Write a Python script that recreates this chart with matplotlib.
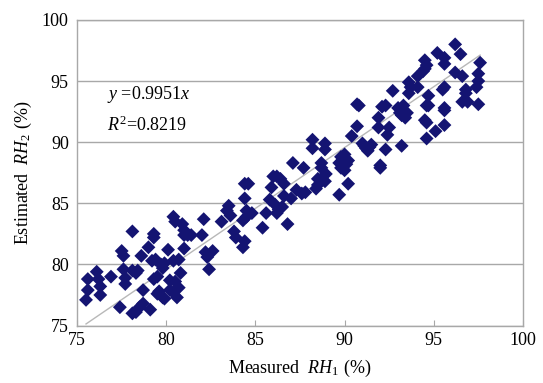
import matplotlib
matplotlib.use("Agg")
import matplotlib.pyplot as plt
import numpy as np

# Measured RH1 (%) and estimated RH2 (%)
measured = [
    75.6, 75.6, 75.5, 76.1, 76.2, 76.3, 76.3, 76.9, 77.4, 77.5, 77.6, 77.6, 77.7, 77.7,
    78.1, 78.1, 78.4, 78.3, 78.1, 78.3, 78.5, 78.7, 78.7, 78.6, 79.0, 79.1, 79.3, 79.3,
    79.2, 79.4, 79.3, 79.5, 79.7, 79.8, 79.9, 79.6, 79.8, 79.5, 80.1, 80.2, 80.4, 79.9,
    80.2, 80.5, 80.4, 80.7, 80.8, 80.7, 80.6,
    80.4, 80.5, 80.9, 81.0, 81.0, 81.2, 81.0, 81.4, 82.1, 82.0, 82.2, 82.3, 82.6, 82.4,
    83.1, 83.5, 83.4, 83.6, 83.8, 83.9, 84.3, 84.4, 84.4, 84.6, 84.4, 84.5, 84.5, 84.3,
    84.8, 85.4, 85.6, 86.0, 86.2, 86.4, 85.9, 85.8, 86.1, 86.3, 86.2, 86.5, 86.6, 86.6,
    86.8, 87.1, 87.0, 87.3, 87.6, 87.8, 87.7,
    88.2, 88.2, 88.9, 88.9, 88.7, 88.7, 88.5, 88.5, 88.4, 88.95, 88.9,
    89.7, 89.7, 89.8, 89.9, 90.0, 90.1, 90.2, 89.8, 90.0, 90.2,
    90.4, 90.7, 90.8, 90.7, 91.0, 91.2, 91.4, 91.5, 91.3, 91.1,
    92.0, 92.0, 91.9, 91.9, 92.1, 92.3, 92.3, 92.4, 92.5,
    92.7, 93.0, 93.1, 93.2, 93.3, 93.4, 93.5, 93.3, 93.2,
    93.6, 93.7, 93.6, 94.1, 94.1, 94.5, 94.6, 94.5, 94.4,
    94.7, 94.6, 94.7, 94.6, 94.5, 94.6,
    95.2, 95.1, 95.6, 95.6, 95.5, 95.6, 95.6, 95.6, 95.6,
    96.2, 96.5, 96.2, 96.6, 96.8, 96.8, 96.6, 96.9,
    97.6, 97.5, 97.5, 97.4, 97.5,
]
estimated = [
    78.8, 77.9, 77.1, 79.4, 78.8, 78.2, 77.5, 79.0, 76.5, 81.1, 80.7, 79.6, 78.9, 78.4,
    82.7, 79.5, 79.5, 79.3, 76.0, 76.1, 76.5, 76.8, 77.9, 80.7, 81.4, 76.3, 82.5, 82.2,
    80.3, 80.4, 78.8, 79.0, 80.0, 79.7, 80.1, 77.8, 77.3, 77.6, 81.2, 77.9, 77.7, 77.2,
    78.7, 78.6, 80.3, 80.4, 79.3, 78.1, 77.3,
    83.9, 83.5, 83.3, 82.8, 82.4, 82.4, 81.3, 82.4, 83.7, 82.4, 81.0, 80.6, 81.1, 79.6,
    83.5, 84.8, 84.4, 84.0, 82.7, 82.2, 81.4, 81.9, 86.6, 86.6, 85.4, 84.4, 83.9, 83.6,
    84.2, 83.0, 84.2, 87.2, 87.2, 87.0, 86.3, 85.3, 84.9, 84.5, 84.2, 84.7, 86.6, 85.6,
    83.3, 88.3, 85.4, 86.1, 85.8, 85.9, 87.9,
    90.2, 89.5, 89.9, 89.4, 88.3, 87.9, 87.0, 86.5, 86.2, 87.4, 86.8,
    85.7, 88.3, 88.8, 88.6, 89.0, 88.2, 88.5, 87.9, 87.7, 86.6,
    90.5, 93.1, 93.0, 91.3, 89.9, 89.5, 89.6, 89.8, 89.3, 89.7,
    88.1, 87.9, 91.2, 92.0, 92.9, 93.0, 89.4, 90.6, 91.2,
    94.2, 92.8, 92.4, 92.2, 92.6, 92.0, 92.4, 93.0, 89.7,
    94.9, 94.5, 94.0, 94.5, 95.4, 96.7, 96.3, 96.0, 95.8,
    93.8, 93.0, 93.0, 91.6, 91.8, 90.3,
    97.3, 90.9, 96.9, 96.4, 94.3, 94.5, 92.8, 92.6, 91.4,
    98.0, 97.2, 95.7, 95.4, 94.3, 94.0, 93.3, 93.3,
    96.5, 95.6, 95.0, 94.5, 93.1,
]
slope = 0.9951
r_squared = 0.8219
x_ticks = [75, 80, 85, 90, 95, 100]
y_ticks = [75, 80, 85, 90, 95, 100]

plt.rcParams["font.family"] = ["Liberation Serif", "DejaVu Serif"]
plt.rcParams["mathtext.fontset"] = "custom"
plt.rcParams["mathtext.rm"] = "Liberation Serif"
plt.rcParams["mathtext.it"] = "Liberation Serif:italic"

GRAY = "#a8a8a8"
NAVY = "#141472"

fig = plt.figure(figsize=(5.43, 3.83), dpi=100)
ax = fig.add_axes([0.142, 0.150, 0.821, 0.798])

ax.scatter(measured, estimated, marker="D", s=50, color=NAVY,
           edgecolors="none", zorder=3)

xs = np.array([min(measured), max(measured)])
ax.plot(xs, slope * xs, color="#b8b8b8", lw=1.0, zorder=2)

ax.set_xlim(75, 100)
ax.set_ylim(75, 100)
ax.set_xticks(x_ticks)
ax.set_yticks(y_ticks)
ax.yaxis.grid(True, color=GRAY, lw=1.0)
ax.set_axisbelow(True)

for sp in ax.spines.values():
    sp.set_color(GRAY)
    sp.set_linewidth(1.0)

ax.tick_params(axis="x", direction="in", length=4, color=GRAY,
               labelsize=13, pad=5)
ax.tick_params(axis="y", length=0, labelsize=13, pad=6)

ax.text(76.7, 93.9, r"$y$ =%.4f$x$" % slope, fontsize=13, va="center")
ax.text(76.7, 91.4, r"$R^2$=%.4f" % r_squared, fontsize=13, va="center")

ax.set_xlabel(r"Measured  $RH_1$ (%)", fontsize=13, labelpad=6)
ax.set_ylabel(r"Estimated  $RH_2$ (%)", fontsize=13, labelpad=6)

fig.savefig("out.png", dpi=100, facecolor="white")
